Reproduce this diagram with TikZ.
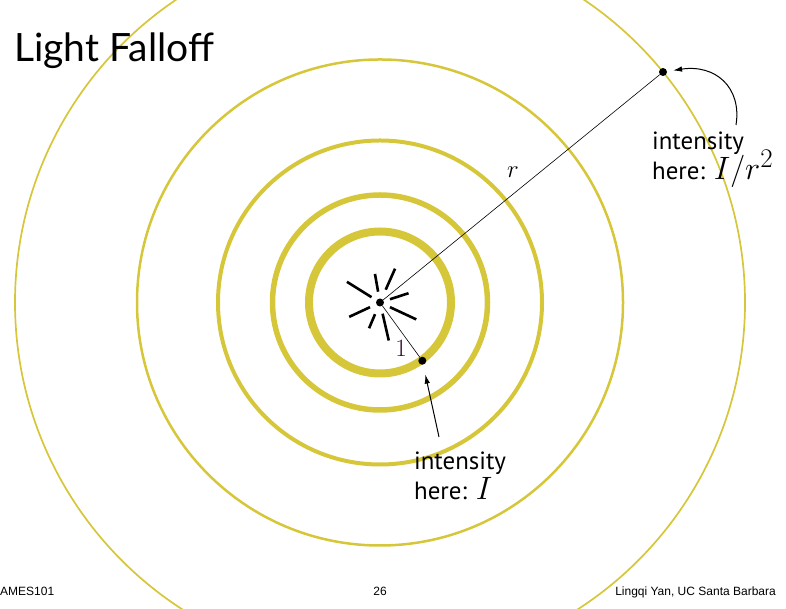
\documentclass[tikz,border=0pt]{standalone}
\usepackage{fontspec}
\setmainfont{PT Sans}
\newfontfamily\titlefont{Lato}
\newfontfamily\footfont{Liberation Sans}
\usepackage{graphicx}
\usepackage{xcolor}
\usepackage{tikz}
\usetikzlibrary{arrows.meta}

\definecolor{ringyellow}{RGB}{214,198,58}
\definecolor{unitpurple}{RGB}{52,12,38}
\newcommand{\bigmath}[1]{\smash{\scalebox{1.3}{$#1$}}}

\begin{document}
\begin{tikzpicture}[
    x=1pt, y=1pt,
    ring/.style={draw=ringyellow},
    ray/.style={line width=2.6pt},
    blackdot/.style={circle, fill=black, inner sep=0pt, minimum size=8pt},
    arrow/.style={-{Latex[length=9pt,width=5.5pt]}, line width=1pt},
    note/.style={align=left, anchor=west, inner sep=0pt, font=\fontsize{24.88}{30}\selectfont},
]
    \useasboundingbox (0,0) rectangle (786,609);
    \clip (0,0) rectangle (786,609);

    % Source and concentric wavefronts
    \node[blackdot] (src) at (380,306.5) {};
    \foreach \r/\w in {71/8, 107.5/5.5, 162/4, 243/2.5, 365/1.7}
        \draw[ring, line width=\w pt] (src.center) circle (\r);

    % Sample points
    \node[blackdot] (near) at ([shift={(-54:72)}]src.center) {};
    \node[blackdot] (far) at (663,537) {};
    \draw[line width=0.6pt] (src) -- (far);
    \draw[line width=0.6pt] (src) -- (near);
    \node (rlab) at (513,437) {\fontsize{24}{24}\selectfont$r$};
    \node (unitlab) at (401,261) {\fontsize{24.88}{26}\selectfont\color{unitpurple}$1$};

    % Light rays
    \foreach \a/\ri/\ro in {148/10/39, 100/11/29, 66/14/37, 18/10.5/30,
                            -25/11/40, -77/11.5/39, -113/12.7/28, -155/11/34}
        \draw[ray] ([shift={(\a:\ri)}]src.center) -- ([shift={(\a:\ro)}]src.center);

    % Annotations
    \node[note] (nearnote) at (414,133) {intensity\\here: \bigmath{I}};
    \coordinate (neartail) at (439,172);
    \draw[arrow, shorten >=10pt] (neartail) -- (near);

    \node[note] (farnote) at (652,453) {intensity\\here: \bigmath{I/r^2}};
    \coordinate (fartail) at (736,484);
    \draw[arrow, shorten >=6pt] (fartail) .. controls (742,522) and (715,545) .. (far);

    % Slide title and footer
    \node[anchor=base west, inner sep=0pt, font=\titlefont\fontsize{39}{39}\selectfont] (title) at (14,547) {Light Falloff};
    \node[anchor=base west, inner sep=0pt, font=\footfont\fontsize{12}{14}\selectfont] (course) at (0,13.5) {AMES101};
    \node[anchor=base, inner sep=0pt, font=\footfont\fontsize{12}{14}\selectfont] (page) at (380,13.5) {26};
    \node[anchor=base east, inner sep=0pt, font=\footfont\fontsize{12}{14}\selectfont] (author) at (776,13.5) {Lingqi Yan, UC Santa Barbara};
\end{tikzpicture}
\end{document}
